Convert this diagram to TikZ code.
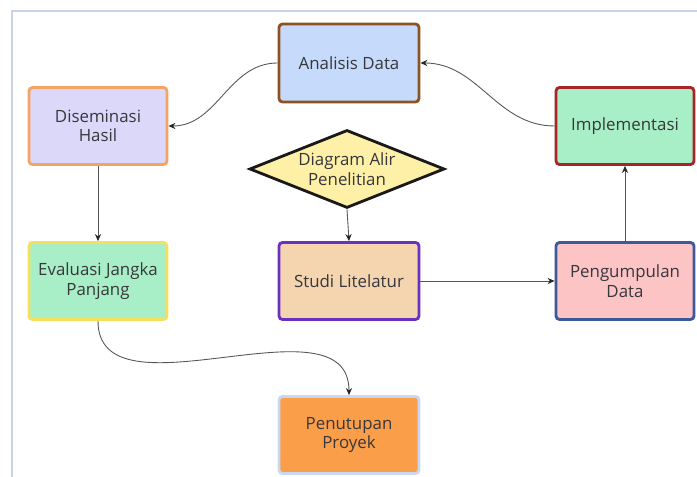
\documentclass[tikz,border=0pt]{standalone}
\usepackage{fontspec}
\setmainfont{Open Sans}
\usepackage{xcolor}
\usepackage{tikz}
\usetikzlibrary{shapes.geometric,arrows.meta}
\definecolor{FrameLine}{RGB}{200,210,232}
\definecolor{TextGray}{RGB}{55,55,60}
\definecolor{EdgeGray}{RGB}{85,85,90}
\definecolor{BlueFill}{RGB}{198,219,251}
\definecolor{BrownLine}{RGB}{140,82,35}
\definecolor{LilacFill}{RGB}{220,216,250}
\definecolor{OrangeLine}{RGB}{244,163,98}
\definecolor{MintFill}{RGB}{168,238,198}
\definecolor{RedLine}{RGB}{165,38,38}
\definecolor{YellowFill}{RGB}{254,240,166}
\definecolor{YellowLine}{RGB}{244,224,90}
\definecolor{PeachFill}{RGB}{245,213,176}
\definecolor{PurpleLine}{RGB}{106,48,194}
\definecolor{PinkFill}{RGB}{253,196,198}
\definecolor{NavyLine}{RGB}{58,90,156}
\definecolor{OrangeFill}{RGB}{251,158,74}
\definecolor{PaleLine}{RGB}{200,216,240}

\begin{document}
\begin{tikzpicture}[
        % --- STYLE UMUM ---
        box/.style={
            rectangle,
            rounded corners=2pt,
            line width=1.6pt,
            minimum width=2.76cm,
            minimum height=1.54cm,
            align=center,
            text=TextGray,
            font=\fontsize{9.6}{11.2}\selectfont
        },
        % Style belah ketupat (keputusan)
        decision/.style={
            diamond,
            draw=black!90,
            fill=YellowFill,
            line width=1.6pt,
            aspect=2.5,
            minimum width=3.9cm,
            minimum height=1.56cm,
            inner sep=0pt,
            align=center,
            text=TextGray,
            font=\fontsize{9.6}{11.2}\selectfont
        },
        % Style panah
        flow/.style={
            draw=EdgeGray,
            line width=0.5pt,
            -{Stealth[length=4pt,width=3.5pt,color=black!85]}
        }
    ]

        % --- BINGKAI ---
        \useasboundingbox (0,0) rectangle (13.94,9.54);
        \draw[FrameLine, line width=0.6pt] (0.24,0) -- (0.24,9.32) -- (13.94,9.32);

        % --- BARIS ATAS ---
        \node[box, draw=BrownLine, fill=BlueFill, minimum width=2.8cm, minimum height=1.56cm]
            (analisis) at (6.98,8.28) {Analisis Data};
        \node[box, draw=OrangeLine, fill=LilacFill] (diseminasi) at (1.96,7.02) {Diseminasi\\Hasil};
        \node[box, draw=RedLine, fill=MintFill] (implementasi) at (12.5,7.02) {Implementasi};

        % --- BELAH KETUPAT ---
        \node[decision] (diagram) at (6.94,6.16) {Diagram Alir\\Penelitian};

        % --- BARIS TENGAH ---
        \node[box, draw=YellowLine, fill=MintFill] (evaluasi) at (1.96,3.92) {Evaluasi Jangka\\Panjang};
        \node[box, draw=PurpleLine, fill=PeachFill, minimum width=2.8cm] (studi) at (6.98,3.92) {Studi Litelatur};
        \node[box, draw=NavyLine, fill=PinkFill] (pengumpulan) at (12.5,3.92) {Pengumpulan\\Data};

        % --- BARIS BAWAH ---
        \node[box, draw=PaleLine, fill=OrangeFill, minimum width=2.8cm] (penutupan) at (6.98,0.84) {Penutupan\\Proyek};

        % --- PANAH ---
        \draw[flow] (diagram.south) -- (studi.north);
        \draw[flow] (studi.east) -- (pengumpulan.west);
        \draw[flow] (pengumpulan.north) -- (implementasi.south);
        \draw[flow] (implementasi.west) to[out=180,in=0] (analisis.east);
        \draw[flow] (analisis.west) to[out=180,in=0] (diseminasi.east);
        \draw[flow] (diseminasi.south) -- (evaluasi.north);
        \draw[flow] (evaluasi.south) to[out=-90,in=90] (penutupan.north);

    \end{tikzpicture}
\end{document}
